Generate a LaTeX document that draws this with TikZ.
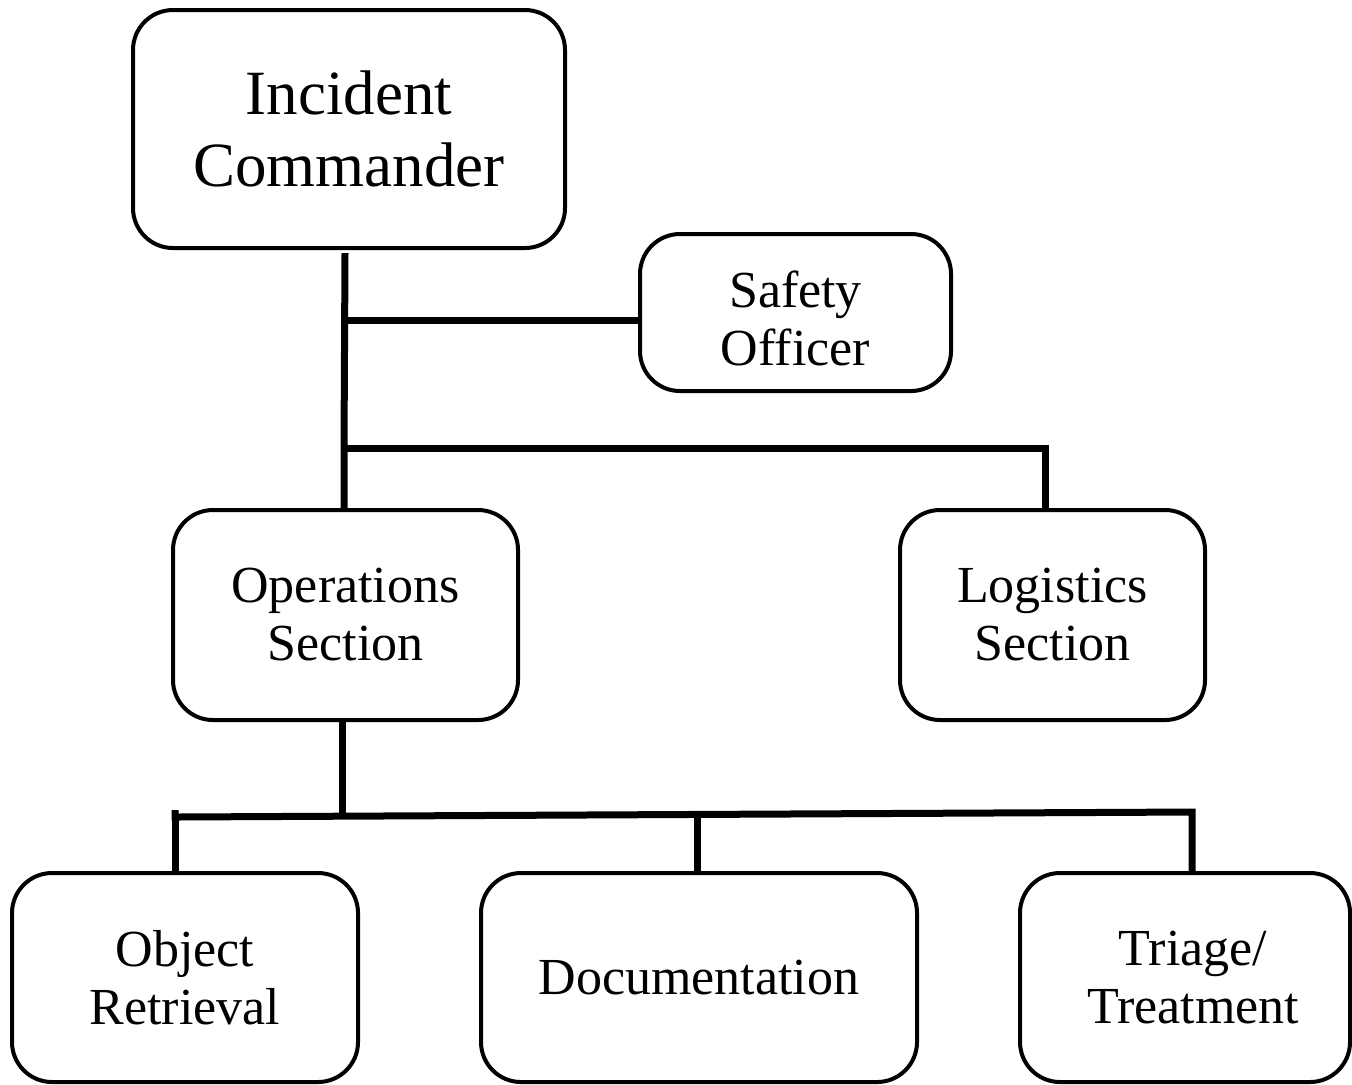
\documentclass[tikz,border=0pt]{standalone}
\usepackage{fontspec}
\setmainfont{Liberation Serif}
\begin{document}
\begin{tikzpicture}[x=0.5pt,y=-0.5pt,
  box/.style={draw,line width=2pt,rounded corners=20pt,align=center,inner sep=0pt},
  conn/.style={line width=3.5pt},
  big/.style={font=\fontsize{31.5}{36}\selectfont},
  med/.style={font=\fontsize{26}{29}\selectfont}]
\useasboundingbox (0,0) rectangle (1352,1084);
\node[box,big,minimum width=216pt,minimum height=119pt] (ic) at (349,129) {Incident\\Commander};
\node[box,med,minimum width=155.5pt,minimum height=78.5pt] (so) at (795.5,312.5) {\rule{0pt}{24pt}Safety\\Officer};
\node[box,med,minimum width=172.5pt,minimum height=105pt] (ops) at (345.5,615) {Operations\\Section};
\node[box,med,minimum width=152.5pt,minimum height=105pt] (log) at (1052.5,615) {Logistics\\Section};
\node[box,med,minimum width=173pt,minimum height=104.5pt] (obj) at (185,977.5) {Object\\Retrieval};
\node[box,med,minimum width=218pt,minimum height=104.5pt] (doc) at (699,977.5) {Documentation};
\node[box,med,minimum width=165pt,minimum height=104.5pt] (tri) at (1185,977.5) {\hspace*{8pt}Triage/\\\hspace*{8pt}Treatment};
\coordinate (a1) at (345,253);
\coordinate (a2) at (345,320);
\coordinate (a3) at (344,448);
\coordinate (a4) at (1045,448);
\coordinate (b1) at (342,815);
\coordinate (b2) at (175,817);
\coordinate (b3) at (697,814);
\coordinate (b4) at (1192,812);
\draw[conn] (a1) -- (a3) -- (ops.north -| a3);
\draw[conn] (a2) -- (so.west |- a2);
\draw[conn] (a3) -- (a4) -- (log.north -| a4);
\draw[conn] (ops.south -| b1) -- (b1);
\draw[conn] (b2 |- 0,810) -- (b2) -- (b4) -- (tri.north -| b4);
\draw[conn] (b2) -- (obj.north -| b2);
\draw[conn] (b3) -- (doc.north -| b3);
\end{tikzpicture}
\end{document}
